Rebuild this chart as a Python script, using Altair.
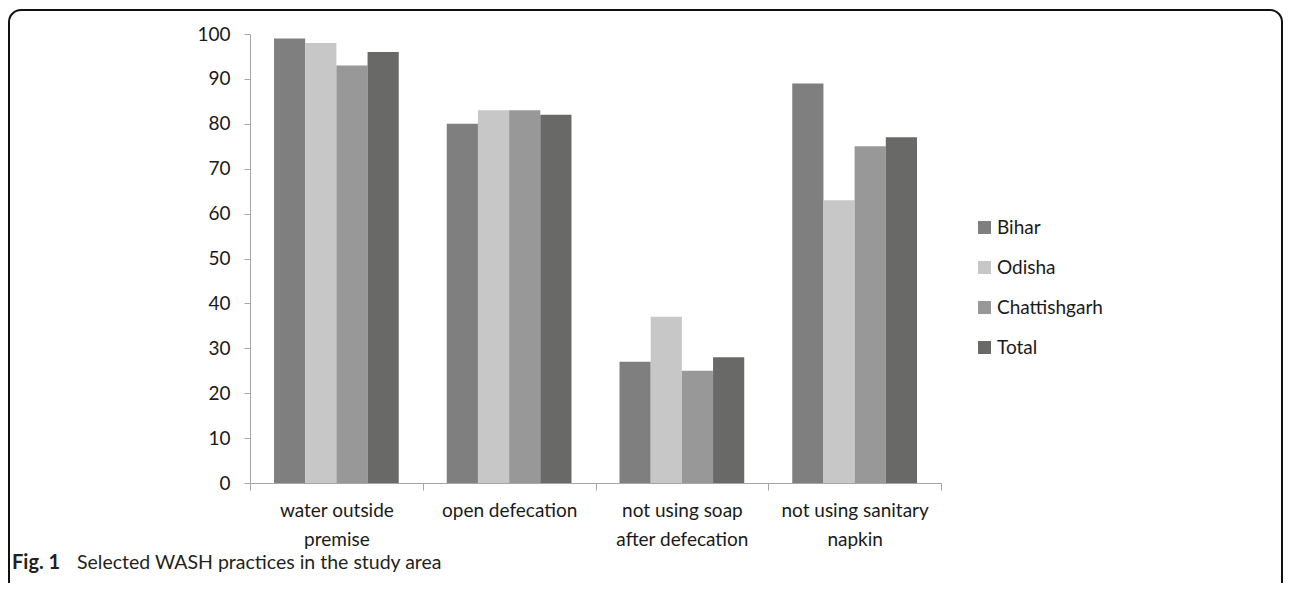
import altair as alt
import pandas as pd

categories = ["water outside\npremise", "open defecation", "not using soap\nafter defecation", "not using sanitary\nnapkin"]
series = ["Bihar", "Odisha", "Chattishgarh", "Total"]
bihar = [99, 80, 27, 89]
odisha = [98, 83, 37, 63]
chattishgarh = [93, 83, 25, 75]
total = [96, 82, 28, 77]
colors = ["#7f7f7f", "#c6c7c6", "#979897", "#696968"]
y_ticks = list(range(0, 101, 10))

rows = []
for s, vals in zip(series, [bihar, odisha, chattishgarh, total]):
    for c, v in zip(categories, vals):
        rows.append({"category": c, "series": s, "value": v})
df = pd.DataFrame(rows)

FONT = "Lato"
FS = 19
W, H = 691, 449

bars = alt.Chart(df).mark_bar().encode(
    x=alt.X("category:N", sort=categories, title=None,
            scale=alt.Scale(paddingInner=0, paddingOuter=0),
            axis=alt.Axis(labelAngle=0, labelExpr="split(datum.label, '\\n')",
                          tickBand="extent", tickSize=7, tickColor="#a6a6a6",
                          domainColor="#a6a6a6", labelFontSize=FS, labelColor="#1a1a1a",
                          labelFont=FONT, labelPadding=11, labelLineHeight=29)),
    xOffset=alt.XOffset("series:N", sort=series,
                        scale=alt.Scale(paddingInner=0, paddingOuter=0.77)),
    y=alt.Y("value:Q", title=None,
            scale=alt.Scale(domain=[0, 100], nice=False),
            axis=alt.Axis(values=y_ticks, grid=False, tickSize=6, tickColor="#a6a6a6",
                          domainColor="#a6a6a6", labelFontSize=FS, labelColor="#1a1a1a",
                          labelFont=FONT, labelPadding=14)),
    color=alt.Color("series:N", sort=series,
                    scale=alt.Scale(domain=series, range=colors),
                    legend=alt.Legend(title=None, orient="none", legendX=725, legendY=184,
                                      symbolType="square", symbolSize=169, symbolStrokeWidth=0,
                                      labelFontSize=FS, labelFont=FONT, labelColor="#1a1a1a",
                                      rowPadding=20, labelOffset=3)),
)

frame_df = pd.DataFrame({"k": [0]})
frame = alt.Chart(frame_df).mark_rect(
    fill=None, stroke="#111111", strokeWidth=2, cornerRadius=12, clip=False
).encode(
    x=alt.value(-241), x2=alt.value(1032), y=alt.value(-24), y2=alt.value(580)
)

cap1 = alt.Chart(frame_df).mark_text(
    text="Fig. 1", font=FONT, fontSize=20, fontWeight="bold", align="left",
    baseline="alphabetic", color="#231f20"
).encode(x=alt.value(-238), y=alt.value(535))
cap2 = alt.Chart(frame_df).mark_text(
    text="Selected WASH practices in the study area", font=FONT, fontSize=19.5,
    align="left", baseline="alphabetic", color="#231f20"
).encode(x=alt.value(-173), y=alt.value(535))

chart = alt.layer(frame, bars, cap1, cap2).properties(
    width=W, height=H,
    autosize=alt.AutoSizeParams(type="none"),
    padding={"left": 242, "top": 26, "right": 342, "bottom": 100},
).configure(background="white", view=alt.ViewConfig(stroke=None))

chart.save("out.html", embed_options={"renderer": "svg", "actions": False})
